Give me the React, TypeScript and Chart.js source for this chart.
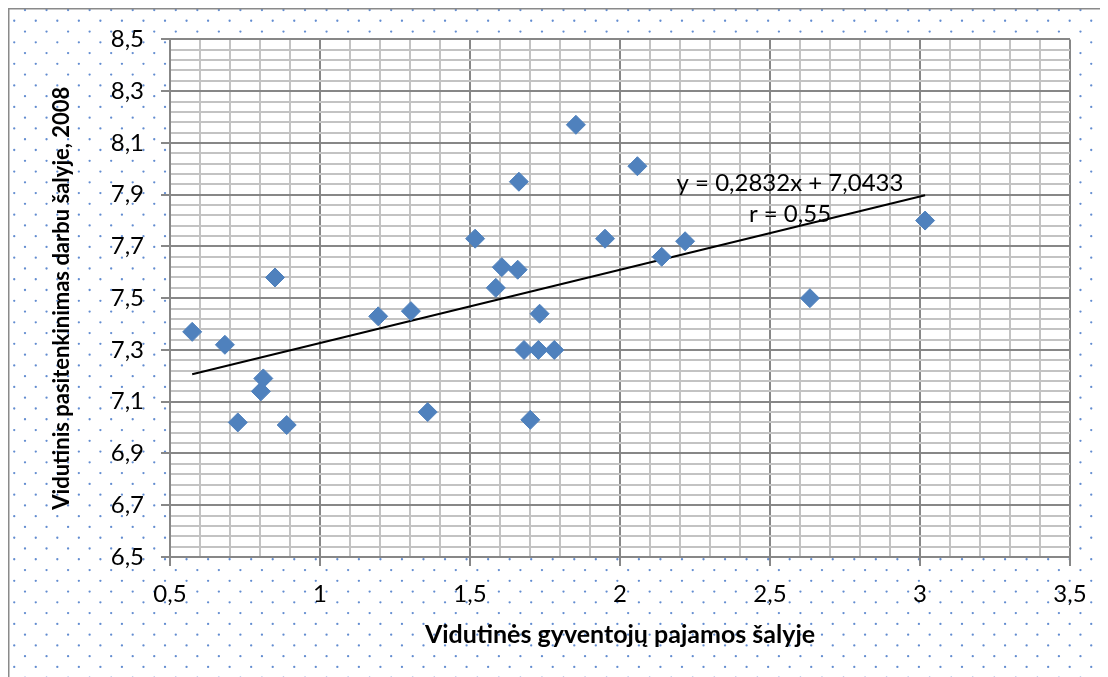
import React, { useEffect, useRef } from 'react';
import { Chart, registerables } from 'chart.js';

Chart.register(...registerables);

// ---- data ----
const incomeX = [
  0.574, 0.683, 0.726, 0.803, 0.811, 0.85, 0.889, 1.194, 1.303, 1.359,
  1.517, 1.586, 1.606, 1.659, 1.663, 1.68, 1.701, 1.728, 1.732, 1.781,
  1.853, 1.95, 2.058, 2.139, 2.217, 2.633, 3.017,
];
const satisfactionY = [
  7.37, 7.32, 7.02, 7.14, 7.19, 7.58, 7.01, 7.43, 7.45, 7.06,
  7.73, 7.54, 7.62, 7.61, 7.95, 7.30, 7.03, 7.30, 7.44, 7.30,
  8.17, 7.73, 8.01, 7.66, 7.72, 7.50, 7.80,
];
const trendSlope = 0.2832;
const trendIntercept = 7.0433;
const equationText = ['y = 0,2832x + 7,0433', 'r = 0,55'];

const xTickLabels = ['0,5', '1', '1,5', '2', '2,5', '3', '3,5'];
const yTickLabels = ['6,5', '6,7', '6,9', '7,1', '7,3', '7,5', '7,7', '7,9', '8,1', '8,3', '8,5'];
const xTitle = 'Vidutinės gyventojų pajamos šalyje';
const yTitle = 'Vidutinis pasitenkinimas darbu šalyje, 2008';

const xMin = 0.5, xMax = 3.5, xMinorStep = 0.1;
const yMin = 6.5, yMax = 8.5, yMinorStep = 0.04;
const minorPerMajor = 5;

// ---- style ----
const W = 1100, H = 669;
const MAJOR = '#878787';
const MINOR = '#c3c3c3';
const FONT = 'Lato, "Open Sans", sans-serif';
const POINT = '#4f81bd';

const bgPlugin = {
  id: 'excelBg',
  beforeDraw(chart: any) {
    const { ctx, chartArea: a } = chart;
    ctx.save();
    ctx.fillStyle = '#ffffff';
    ctx.fillRect(0, 0, W, H);
    ctx.fillStyle = 'rgba(70,120,200,0.85)';
    const dx = 21.54, dy = 10.77;
    for (let r = 0; ; r++) {
      const y = 2 + r * dy;
      if (y > H + 2) break;
      const x0 = r % 2 === 0 ? 17 : 6.23;
      for (let x = x0 - dx; x < W + 2; x += dx) {
        ctx.beginPath();
        ctx.arc(x, y, 1.15, 0, Math.PI * 2);
        ctx.fill();
      }
    }
    ctx.fillStyle = '#ffffff';
    ctx.fillRect(a.left, a.top, a.right - a.left, a.bottom - a.top);
    ctx.strokeStyle = '#8a8a8a';
    ctx.lineWidth = 1.5;
    ctx.beginPath();
    ctx.moveTo(0.75, H);
    ctx.lineTo(0.75, 0.75);
    ctx.lineTo(W, 0.75);
    ctx.stroke();
    ctx.restore();
  },
  afterDatasetsDraw(chart: any) {
    const { ctx, chartArea: a } = chart;
    ctx.save();
    ctx.fillStyle = '#000';
    ctx.font = `24px ${FONT}`;
    ctx.textAlign = 'center';
    ctx.textBaseline = 'middle';
    const cx = a.left + 620;
    ctx.fillText(equationText[0], cx, a.top + 144);
    ctx.fillText(equationText[1], cx, a.top + 175);
    ctx.restore();
  },
};

export default function App() {
  const ref = useRef<HTMLCanvasElement>(null);

  useEffect(() => {
    document.body.style.overflow = 'hidden';
    const points = incomeX.map((x, i) => ({ x, y: satisfactionY[i] }));
    const tx0 = Math.min(...incomeX);
    const tx1 = Math.max(...incomeX);
    const trend = [
      { x: tx0, y: trendSlope * tx0 + trendIntercept },
      { x: tx1, y: trendSlope * tx1 + trendIntercept },
    ];
    const nX = Math.round((xMax - xMin) / xMinorStep);
    const nY = Math.round((yMax - yMin) / yMinorStep);

    const gridColor = (c: any) => (c.index % minorPerMajor === 0 ? MAJOR : MINOR);
    const tickColor = (c: any) => (c.index % minorPerMajor === 0 ? MAJOR : 'rgba(0,0,0,0)');

    const chart = new Chart(ref.current!, {
      type: 'scatter',
      data: {
        datasets: [
          {
            data: points,
            pointStyle: 'rectRot',
            pointRadius: 9.5,
            pointHoverRadius: 9.5,
            backgroundColor: POINT,
            borderColor: POINT,
            borderWidth: 1,
          },
          {
            data: trend,
            showLine: true,
            borderColor: '#000',
            borderWidth: 2,
            pointRadius: 0,
            pointHoverRadius: 0,
          } as any,
        ],
      },
      options: {
        responsive: false,
        animation: false,
        events: [],
        layout: { padding: { left: 0, top: 29, right: 38, bottom: 0 } },
        plugins: { legend: { display: false }, tooltip: { enabled: false } },
        scales: {
          x: {
            type: 'linear',
            min: xMin,
            max: xMax,
            afterBuildTicks: (s: any) => {
              s.ticks = Array.from({ length: nX + 1 }, (_, i) => ({ value: +(xMin + i * xMinorStep).toFixed(3) }));
            },
            afterFit: (s: any) => { s.height = 120; },
            ticks: {
              autoSkip: false,
              maxRotation: 0,
              padding: 14,
              color: '#000',
              font: { family: FONT, size: 24 },
              callback: (_v: any, i: number) => (i % minorPerMajor === 0 ? xTickLabels[i / minorPerMajor] : ''),
            },
            grid: { color: gridColor, tickColor, lineWidth: 2, tickLength: 9, drawTicks: true },
            border: { display: true, color: MAJOR, width: 2 },
            title: {
              display: true,
              text: xTitle,
              color: '#000',
              font: { family: FONT, size: 25, weight: 'bold' },
              padding: { top: 0, bottom: 27 },
            },
          },
          y: {
            type: 'linear',
            min: yMin,
            max: yMax,
            afterBuildTicks: (s: any) => {
              s.ticks = Array.from({ length: nY + 1 }, (_, i) => ({ value: +(yMin + i * yMinorStep).toFixed(3) }));
            },
            afterFit: (s: any) => { s.width = 162; },
            ticks: {
              autoSkip: false,
              padding: 17,
              color: '#000',
              font: { family: FONT, size: 24 },
              callback: (_v: any, i: number) => (i % minorPerMajor === 0 ? yTickLabels[i / minorPerMajor] : ''),
            },
            grid: { color: gridColor, tickColor, lineWidth: 2, tickLength: 9, drawTicks: true },
            border: { display: true, color: MAJOR, width: 2 },
            title: {
              display: true,
              text: yTitle,
              color: '#000',
              font: { family: FONT, size: 22, weight: 'bold' },
              padding: { top: 41, bottom: 0 },
            },
          },
        },
      },
      plugins: [bgPlugin],
    } as any);
    return () => chart.destroy();
  }, []);

  return (
    <div style={{ width: W, height: H }}>
      <canvas ref={ref} width={W} height={H} style={{ display: 'block', width: W, height: H }} />
    </div>
  );
}
